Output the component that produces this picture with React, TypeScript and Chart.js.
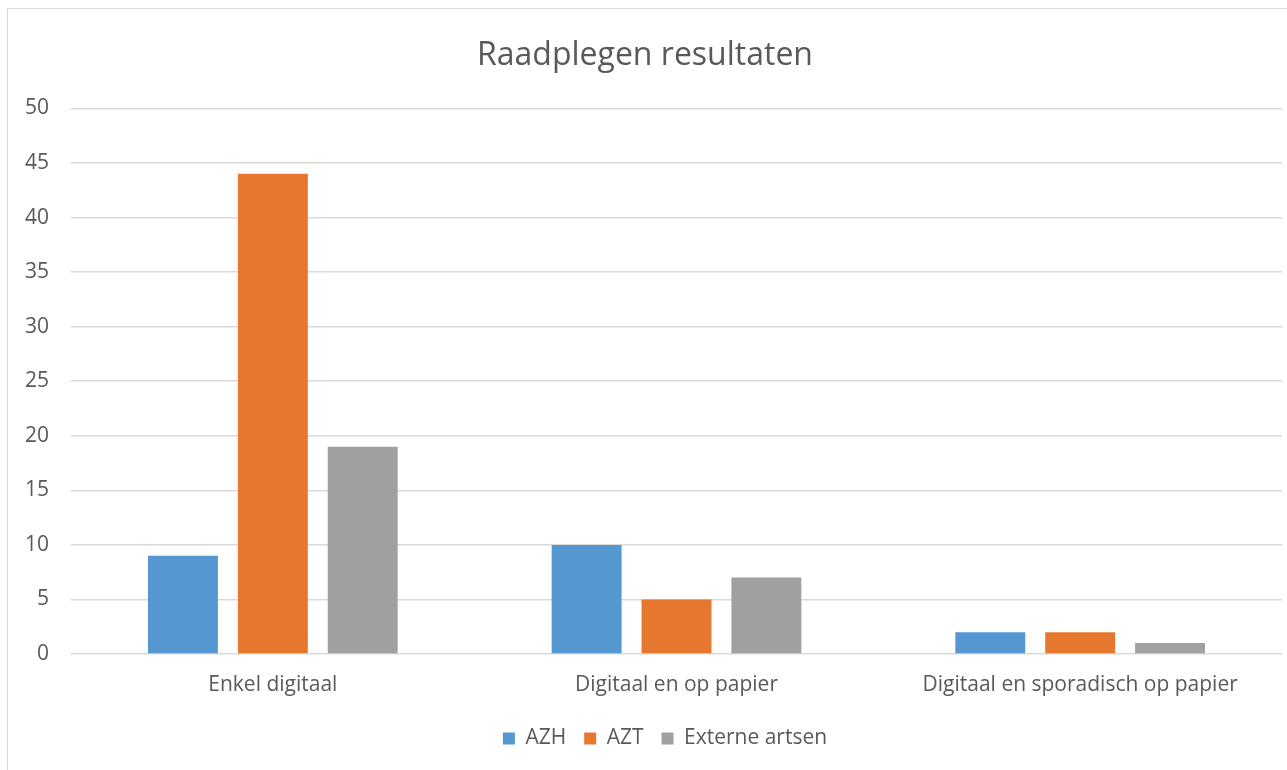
import React, { useEffect, useRef } from "react";
import { Chart, registerables } from "chart.js";

Chart.register(...registerables);

const categories = ["Enkel digitaal", "Digitaal en op papier", "Digitaal en sporadisch op papier"];
const azh = [9, 10, 2];
const azt = [44, 5, 2];
const externe = [19, 7, 1];
const seriesNames = ["AZH", "AZT", "Externe artsen"];
const seriesColors = ["#5597D1", "#E7772F", "#A0A0A0"];
const titleText = "Raadplegen resultaten";

const FONT = "'Open Sans', 'DejaVu Sans', sans-serif";
const TEXT = "#595959";

const legendShift = {
  id: "legendShift",
  afterLayout(chart: any) {
    if (chart.legend) {
      chart.legend.left += 20;
      chart.legend.right += 20;
    }
  },
};

export default function App() {
  const ref = useRef<HTMLCanvasElement>(null);
  useEffect(() => {
    if (!ref.current) return;
    const chart = new Chart(ref.current, {
      type: "bar",
      data: {
        labels: categories,
        datasets: [azh, azt, externe].map((d, i) => ({
          label: seriesNames[i],
          data: d,
          backgroundColor: seriesColors[i],
          borderWidth: 0,
          categoryPercentage: 0.668,
          barPercentage: 0.778,
        })),
      },
      options: {
        responsive: true,
        maintainAspectRatio: false,
        animation: false,
        layout: { padding: { top: 0, bottom: 11, left: 0, right: 5 } },
        plugins: {
          tooltip: { enabled: false },
          title: {
            display: true,
            text: titleText,
            color: TEXT,
            font: { family: FONT, size: 32, weight: "normal" },
            padding: { top: 28, bottom: 33 },
          },
          legend: {
            position: "bottom",
            labels: {
              color: TEXT,
              font: { family: FONT, size: 21 },
              boxWidth: 12,
              boxHeight: 12,
              padding: 18,
            },
          },
        },
        scales: {
          x: {
            grid: { display: false, drawTicks: false },
            border: { display: false },
            ticks: { color: TEXT, font: { family: FONT, size: 21 }, padding: 18 },
            afterFit: (s: any) => {
              s.height = 56;
            },
          },
          y: {
            min: 0,
            max: 50,
            ticks: { stepSize: 5, color: TEXT, font: { family: FONT, size: 21 }, padding: 22 },
            grid: { color: "#D9D9D9", lineWidth: 1.5, drawTicks: false },
            border: { display: false },
            afterFit: (s: any) => {
              s.width = 63;
            },
          },
        },
      },
      plugins: [legendShift],
    });
    return () => chart.destroy();
  }, []);
  return (
    <div
      style={{
        position: "absolute",
        left: 7,
        top: 8,
        width: 1300,
        height: 800,
        borderLeft: "1.5px solid #D9D9D9",
        borderTop: "1.5px solid #D9D9D9",
        background: "#fff",
      }}
    >
      <div style={{ position: "absolute", left: 0, top: 0, width: 1279, height: 761 }}>
        <canvas ref={ref} />
      </div>
    </div>
  );
}
